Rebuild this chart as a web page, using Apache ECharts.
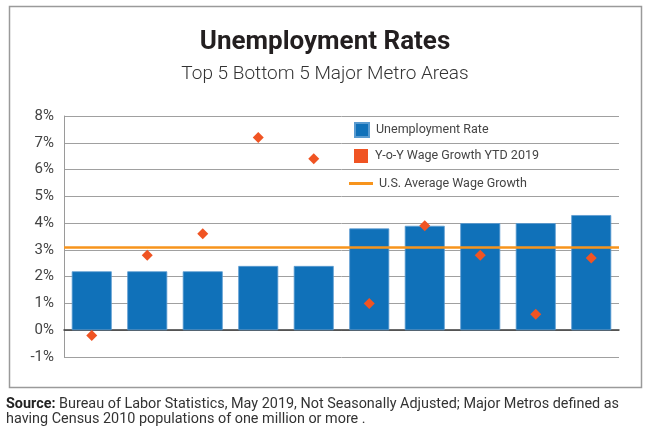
<!DOCTYPE html>
<html>
<head>
<meta charset="utf-8">
<script src="https://cdn.jsdelivr.net/npm/echarts@6/dist/echarts.min.js"></script>
<style>html,body{margin:0;padding:0;background:#fff;}#c{width:650px;height:440px;}</style>
</head>
<body>
<div id="c"></div>
<script>
const categories = ['Metro 1','Metro 2','Metro 3','Metro 4','Metro 5','Metro 6','Metro 7','Metro 8','Metro 9','Metro 10'];
const unemploymentRate = [2.2, 2.2, 2.2, 2.4, 2.4, 3.8, 3.9, 4.0, 4.0, 4.3];
const wageGrowth = [-0.2, 2.8, 3.6, 7.2, 6.4, 1.0, 3.9, 2.8, 0.6, 2.7];
const usAverageWageGrowth = 3.1;
const yTicks = [-1, 0, 1, 2, 3, 4, 5, 6, 7, 8];
const titleText = 'Unemployment Rates';
const subtitleText = 'Top 5 Bottom 5 Major Metro Areas';
const sourceLine1 = 'Bureau of Labor Statistics, May 2019, Not Seasonally Adjusted; Major Metros defined as';
const sourceLine2 = 'having Census 2010 populations of one million or more .';

const chart = echarts.init(document.getElementById('c'), null, {renderer: 'canvas'});
const FONT = 'Roboto';
const legendText = {fontFamily: FONT, fontSize: 12.5, color: '#444'};
chart.setOption({
  backgroundColor: '#fff',
  animation: false,
  graphic: [{
    type: 'rect', shape: {x: 9.5, y: 6.5, width: 632, height: 381},
    style: {fill: 'none', stroke: '#9a9a9a', lineWidth: 1.5}, z: 0
  }],
  title: [
    {text: titleText, left: 'center', top: 24,
     textStyle: {fontFamily: FONT, fontWeight: 'bold', fontSize: 26, color: '#231f20'}},
    {text: subtitleText, left: 'center', top: 60,
     textStyle: {fontFamily: FONT, fontWeight: 300, fontSize: 19, color: '#333'}},
    {text: '{b|Source:} ' + sourceLine1 + '\n' + sourceLine2, left: 6, top: 397, padding: 0,
     textStyle: {fontFamily: FONT, fontWeight: 'normal', fontSize: 14.4, color: '#333', lineHeight: 15,
       rich: {b: {fontFamily: FONT, fontWeight: 'bold', fontSize: 14.4, color: '#222', lineHeight: 15}}}}
  ],
  legend: [
    {data: ['Unemployment Rate'], left: 354, top: 122, padding: 0, itemWidth: 14, itemHeight: 14, icon: 'rect',
     textStyle: Object.assign({padding: [0,0,0,2]}, legendText), selectedMode: false},
    {data: ['Y-o-Y Wage Growth YTD 2019'], left: 354, top: 149, padding: 0, itemWidth: 14, itemHeight: 14, icon: 'rect',
     textStyle: Object.assign({padding: [0,0,0,2]}, legendText), selectedMode: false},
    {data: ['U.S. Average Wage Growth'], left: 349, top: 177, padding: 0, itemWidth: 24, itemHeight: 3, icon: 'rect',
     textStyle: Object.assign({padding: [0,0,0,1]}, legendText), selectedMode: false}
  ],
  grid: {left: 64, right: 31, top: 116, bottom: 83},
  xAxis: {
    type: 'category', data: categories,
    axisLabel: {show: false}, axisTick: {show: false},
    axisLine: {show: true, onZero: true, lineStyle: {color: '#3a3a3a', width: 1.5}},
    splitLine: {show: false}
  },
  yAxis: {
    type: 'value', min: yTicks[0], max: yTicks[yTicks.length - 1], interval: 1,
    axisLabel: {formatter: '{value}%', fontFamily: FONT, fontSize: 15, color: '#444', margin: 10},
    axisLine: {show: true, lineStyle: {color: '#9a9a9a', width: 1}},
    axisTick: {show: false},
    splitLine: {show: true, lineStyle: {color: '#a0a0a0', width: 1}}
  },
  series: [
    {name: 'Unemployment Rate', type: 'bar', data: unemploymentRate, barCategoryGap: '28%',
     itemStyle: {color: '#1071b9', borderColor: '#5a9bd0', borderWidth: 0.8}, z: 2},
    {name: 'Y-o-Y Wage Growth YTD 2019', type: 'scatter', data: wageGrowth, symbol: 'diamond', symbolSize: 11,
     itemStyle: {color: '#f05423', opacity: 1}, z: 5},
    {name: 'U.S. Average Wage Growth', type: 'line', data: [], symbol: 'none',
     lineStyle: {color: '#f7941d', width: 2.5}, itemStyle: {color: '#f7941d'},
     markLine: {symbol: 'none', silent: true, label: {show: false},
       lineStyle: {color: '#f7941d', width: 2.5, type: 'solid'},
       data: [{yAxis: usAverageWageGrowth}]}, z: 4}
  ]
});
</script>
</body>
</html>
